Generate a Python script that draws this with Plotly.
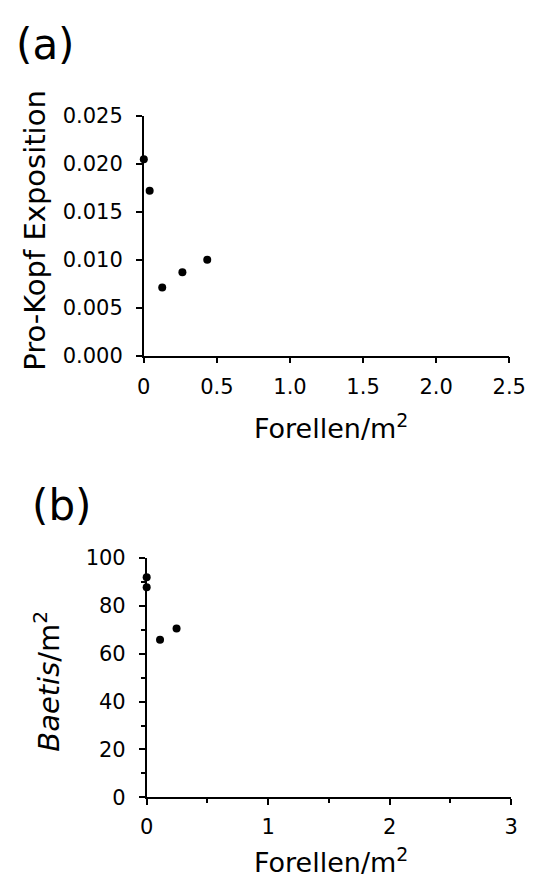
import plotly.graph_objects as go

# Panel (a)
a_x = [0.0, 0.04, 0.126, 0.264, 0.434]
a_y = [0.0205, 0.0172, 0.0071, 0.0087, 0.0100]
a_xticks = [0, 0.5, 1.0, 1.5, 2.0, 2.5]
a_xlabels = ["0", "0.5", "1.0", "1.5", "2.0", "2.5"]
a_yticks = [0, 0.005, 0.010, 0.015, 0.020, 0.025]
a_ylabels = ["0.000", "0.005", "0.010", "0.015", "0.020", "0.025"]

# Panel (b)
b_x = [0.0, 0.0, 0.11, 0.246]
b_y = [91.9, 87.8, 65.8, 70.5]
b_xticks = [0, 1, 2, 3]
b_yticks = [0, 20, 40, 60, 80, 100]

W, H = 554, 894
FONT = "DejaVu Sans, Liberation Sans, Arial, sans-serif"

fig = go.Figure()
fig.add_trace(go.Scatter(x=a_x, y=a_y, mode="markers", xaxis="x", yaxis="y",
                         marker=dict(color="black", size=8), cliponaxis=False, showlegend=False))
fig.add_trace(go.Scatter(x=b_x, y=b_y, mode="markers", xaxis="x2", yaxis="y2",
                         marker=dict(color="black", size=8), cliponaxis=False, showlegend=False))

axis_common = dict(showline=True, linecolor="black", linewidth=1.5, ticks="outside",
                   tickcolor="black", tickwidth=1.5, ticklen=6, showgrid=False, zeroline=False,
                   tickfont=dict(family=FONT, size=21, color="black"), fixedrange=True)

fig.update_layout(
    width=W, height=H, margin=dict(l=0, r=0, t=0, b=0),
    plot_bgcolor="white", paper_bgcolor="white",
    xaxis=dict(domain=[143 / W, 525 / W], anchor="y", range=[0, 2.5],
               tickvals=a_xticks, ticktext=a_xlabels, ticklabelstandoff=6, **axis_common),
    yaxis=dict(domain=[1 - 353 / H, 1 - 107 / H], anchor="x", range=[0, 0.025],
               tickvals=a_yticks, ticktext=a_ylabels, ticklabelstandoff=9, **axis_common),
    xaxis2=dict(domain=[146 / W, 527 / W], anchor="y2", range=[0, 3],
                tickvals=b_xticks, ticklabelstandoff=4,
                minor=dict(dtick=0.5, ticks="outside", ticklen=4, tickcolor="black", tickwidth=1.5),
                **axis_common),
    yaxis2=dict(domain=[1 - 807 / H, 1 - 561 / H], anchor="x2", range=[0, 100],
                tickvals=b_yticks, ticklabelstandoff=9,
                minor=dict(dtick=10, ticks="outside", ticklen=4, tickcolor="black", tickwidth=1.5),
                **axis_common),
)

def ann(text, x, y, size, angle=0):
    fig.add_annotation(text=text, x=x / W, y=1 - y / H, xref="paper", yref="paper",
                       showarrow=False, textangle=angle, xanchor="center", yanchor="middle",
                       font=dict(family=FONT, size=size, color="black"))

ann("(a)", 40, 33, 42)
ann("(b)", 57, 507, 42)
ann("Pro-Kopf Exposition", 29, 224, 29, -90)
ann("Forellen/m<sup>2</sup>", 339, 426, 27)
ann("<i>Baetis</i>/m<sup>2</sup>", 41, 688, 29, -90)
ann("Forellen/m<sup>2</sup>", 339, 872, 27)

fig.write_html("out.html")
